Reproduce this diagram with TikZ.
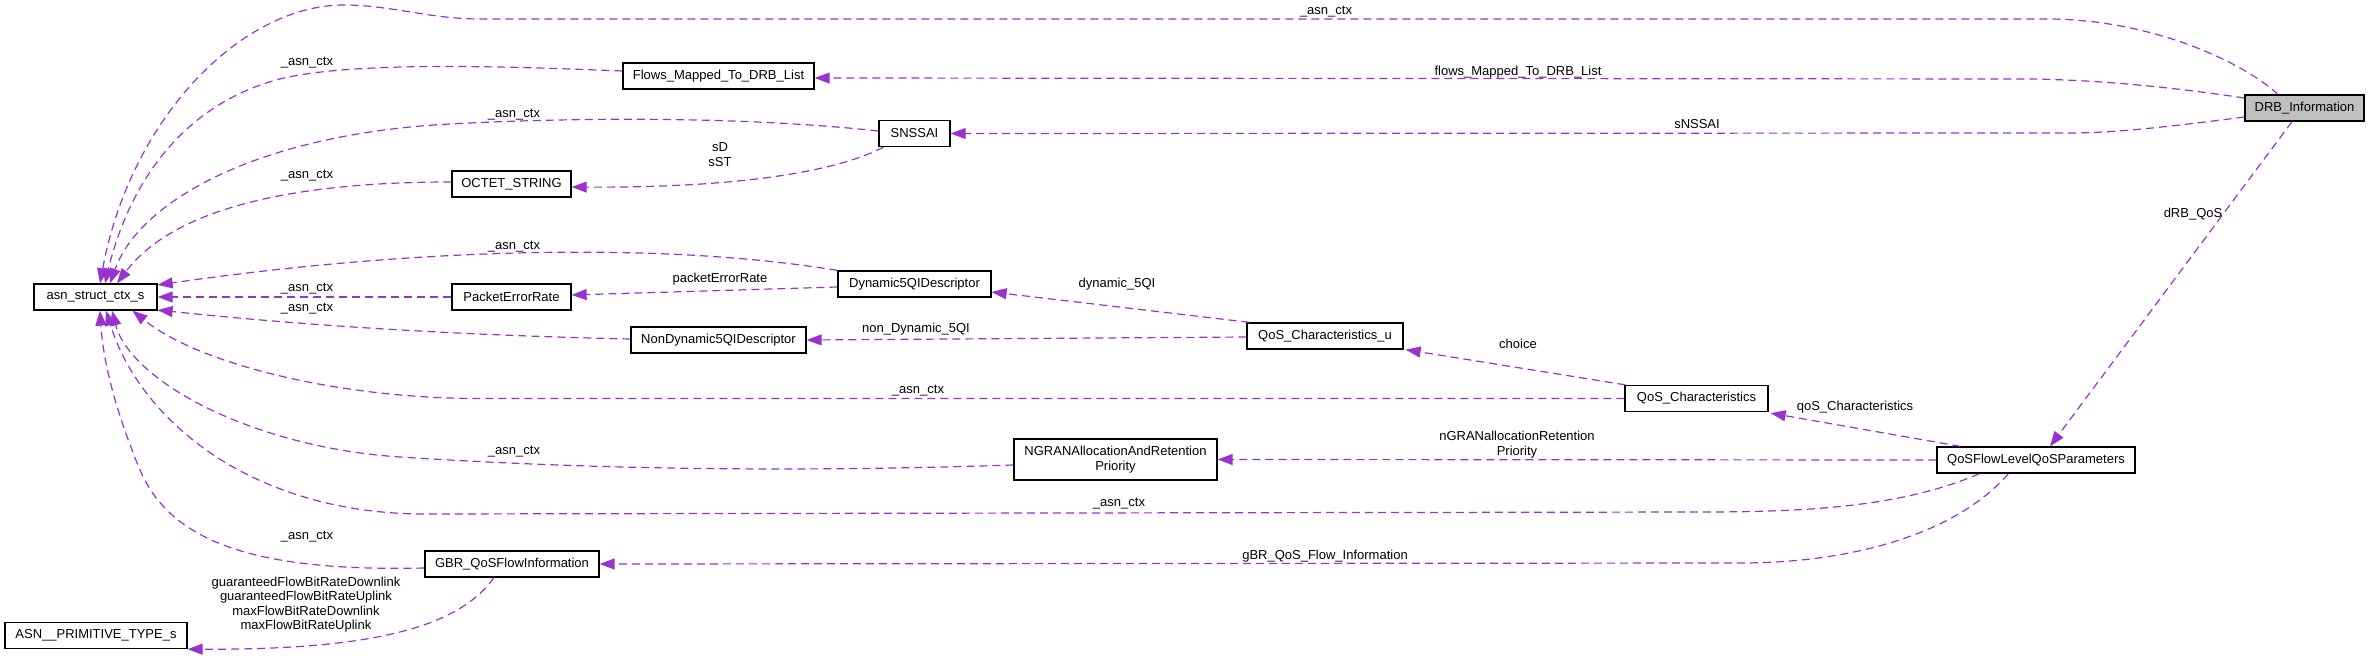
\documentclass[tikz,border=0pt]{standalone}
\usepackage{fontspec}
\setmainfont{Liberation Sans}
\usetikzlibrary{arrows.meta,calc}
\definecolor{dxpurple}{HTML}{9A32CD}
\definecolor{dxgray}{HTML}{BFBFBF}
\newcommand{\dxf}{\fontsize{13pt}{15pt}\selectfont}
\begin{document}
\begin{tikzpicture}[x=1pt,y=-1pt,
  box/.style={draw=black, line width=1.3pt, fill=white, minimum height=26pt, inner sep=0pt, font=\dxf, align=center},
  lbl/.style={inner sep=0pt, font=\dxf, align=center},
  conn/.style={draw=dxpurple, line width=1.2pt, dash pattern=on 8pt off 5pt, -{Triangle[length=15pt,width=11pt]}}]
\useasboundingbox (0,0) rectangle (2369,658);

% nodes
\node[box, minimum width=123pt] (asn) at (95.5,297) {asn\_struct\_ctx\_s};
\node[box, minimum width=191pt] (flows) at (718.5,76) {Flows\_Mapped\_To\_DRB\_List};
\node[box, minimum width=71pt] (snssai) at (914.5,133.5) {SNSSAI};
\node[box, minimum width=119pt] (octet) at (511.5,184) {OCTET\_STRING};
\node[box, minimum width=153pt] (dyn) at (914.5,284) {Dynamic5QIDescriptor};
\node[box, minimum width=119pt] (per) at (511.5,297) {PacketErrorRate};
\node[box, minimum width=175pt] (nondyn) at (718.5,340) {NonDynamic5QIDescriptor};
\node[box, minimum width=156pt] (qcu) at (1325,336) {QoS\_Characteristics\_u};
\node[box, minimum width=143pt] (qc) at (1696.5,398.5) {QoS\_Characteristics};
\node[box, minimum width=203pt, minimum height=41pt] (ngran) at (1115.5,459.5) {NGRANAllocationAndRetention\\Priority};
\node[box, minimum width=198pt] (qfl) at (2036,460) {QoSFlowLevelQoSParameters};
\node[box, minimum width=174pt] (gbr) at (512,564) {GBR\_QoSFlowInformation};
\node[box, minimum width=182pt] (prim) at (96,635.5) {ASN\_\_PRIMITIVE\_TYPE\_s};
\node[box, minimum width=119pt, fill=dxgray] (drb) at (2304.5,108) {DRB\_Information};

% connectors
\draw[conn] ($(drb.north)+(-26.5,0)$) .. controls (2240,60) and (2150,20) .. (2050,19) -- (480,19)
  .. controls (430,19) and (390,5) .. (344,5) .. controls (240,5) and (130,120) .. ($(asn.north)+(4.5,0)$);
\draw[conn] ($(drb.west)+(0,-10)$) .. controls (2170,87) and (2100,80) .. (2030,79) -- ($(flows.east)+(0,2)$);
\draw[conn] ($(drb.west)+(0,9)$) .. controls (2160,128) and (2110,133) .. (2070,133) -- (snssai.east);
\draw[conn] ($(drb.south)+(-12.5,0)$) -- ($(qfl.north)+(14,0)$);
\draw[conn] ($(flows.west)+(0,-5)$) .. controls (520,67) and (350,60) .. (276,80) .. controls (170,110) and (125,200) .. ($(asn.north)+(9.5,0)$);
\draw[conn] ($(snssai.west)+(0,-2.5)$) .. controls (760,118) and (600,116) .. (450,124) .. controls (260,134) and (140,200) .. ($(asn.north)+(14.5,0)$);
\draw[conn] ($(snssai.south west)+(5,0)$) .. controls (830,175) and (720,188) .. ($(octet.east)+(0,3)$);
\draw[conn] ($(octet.west)+(0,-2)$) .. controls (320,182) and (180,200) .. ($(asn.north)+(21.5,0)$);
\draw[conn] (dyn.north west) .. controls (650,240) and (400,250) .. ($(asn.east)+(0,-12)$);
\draw[conn] ($(dyn.west)+(0,3)$) -- ($(per.east)+(0,-2)$);
\draw[conn] (per.west) -- (asn.east);
\draw[conn] ($(nondyn.west)+(0,-1)$) .. controls (450,335) and (300,325) .. ($(asn.east)+(0,13)$);
\draw[conn] ($(qcu.north west)+(3,0)$) -- ($(dyn.east)+(0,8)$);
\draw[conn] ($(qcu.west)+(0,1)$) -- (nondyn.east);
\draw[conn] ($(qc.north west)+(1,0)$) -- ($(qcu.south east)+(2,0)$);
\draw[conn] (qc.west) -- (476,398.5) .. controls (340,398) and (200,365) .. ($(asn.south)+(37,0)$);
\draw[conn] ($(qfl.north west)+(24,0)$) -- ($(qc.south east)+(2,1)$);
\draw[conn] (qfl.west) -- (ngran.east);
\draw[conn] ($(ngran.west)+(0,5.5)$) .. controls (800,472) and (600,470) .. (400,457) .. controls (250,447) and (130,380) .. ($(asn.south)+(16.5,0)$);
\draw[conn] ($(qfl.south west)+(43,0)$) .. controls (1900,508) and (1800,512) .. (1700,512) -- (420,514) .. controls (250,512) and (140,420) .. ($(asn.south)+(10.5,0)$);
\draw[conn] ($(qfl.south west)+(72,0)$) .. controls (1960,530) and (1860,563) .. (1740,563) -- (gbr.east);
\draw[conn] ($(gbr.west)+(0,4)$) .. controls (250,572) and (170,540) .. (140,470) .. controls (115,410) and (103,360) .. ($(asn.south)+(4.5,0)$);
\draw[conn] ($(gbr.south)+(-18,0)$) .. controls (460,625) and (380,650) .. (prim.south east);

% labels
\node[lbl] (l1) at (1326,12) {\_asn\_ctx};
\node[lbl] (l2) at (1518,72) {flows\_Mapped\_To\_DRB\_List};
\node[lbl] (l3) at (1697,124) {sNSSAI};
\node[lbl] (l4) at (2193,214) {dRB\_QoS};
\node[lbl] (l5) at (307,63) {\_asn\_ctx};
\node[lbl] (l6) at (514,115) {\_asn\_ctx};
\node[lbl] (l7) at (720,155) {sD\\sST};
\node[lbl] (l8) at (307,176) {\_asn\_ctx};
\node[lbl] (l9) at (514,247) {\_asn\_ctx};
\node[lbl] (l10) at (720,279) {packetErrorRate};
\node[lbl] (l11) at (307,289) {\_asn\_ctx};
\node[lbl] (l12) at (307,309) {\_asn\_ctx};
\node[lbl] (l13) at (1117,284) {dynamic\_5QI};
\node[lbl] (l14) at (916,329) {non\_Dynamic\_5QI};
\node[lbl] (l15) at (1518,344) {choice};
\node[lbl] (l16) at (918,391) {\_asn\_ctx};
\node[lbl] (l17) at (1855,407) {qoS\_Characteristics};
\node[lbl] (l18) at (1517,445) {nGRANallocationRetention\\Priority};
\node[lbl] (l19) at (514,452) {\_asn\_ctx};
\node[lbl] (l20) at (1119,504) {\_asn\_ctx};
\node[lbl] (l21) at (1325,556) {gBR\_QoS\_Flow\_Information};
\node[lbl] (l22) at (307,537) {\_asn\_ctx};
\node[lbl, font=\fontsize{13pt}{14.4pt}\selectfont] (l23) at (306,604.5) {guaranteedFlowBitRateDownlink\\guaranteedFlowBitRateUplink\\maxFlowBitRateDownlink\\maxFlowBitRateUplink};
\end{tikzpicture}
\end{document}
